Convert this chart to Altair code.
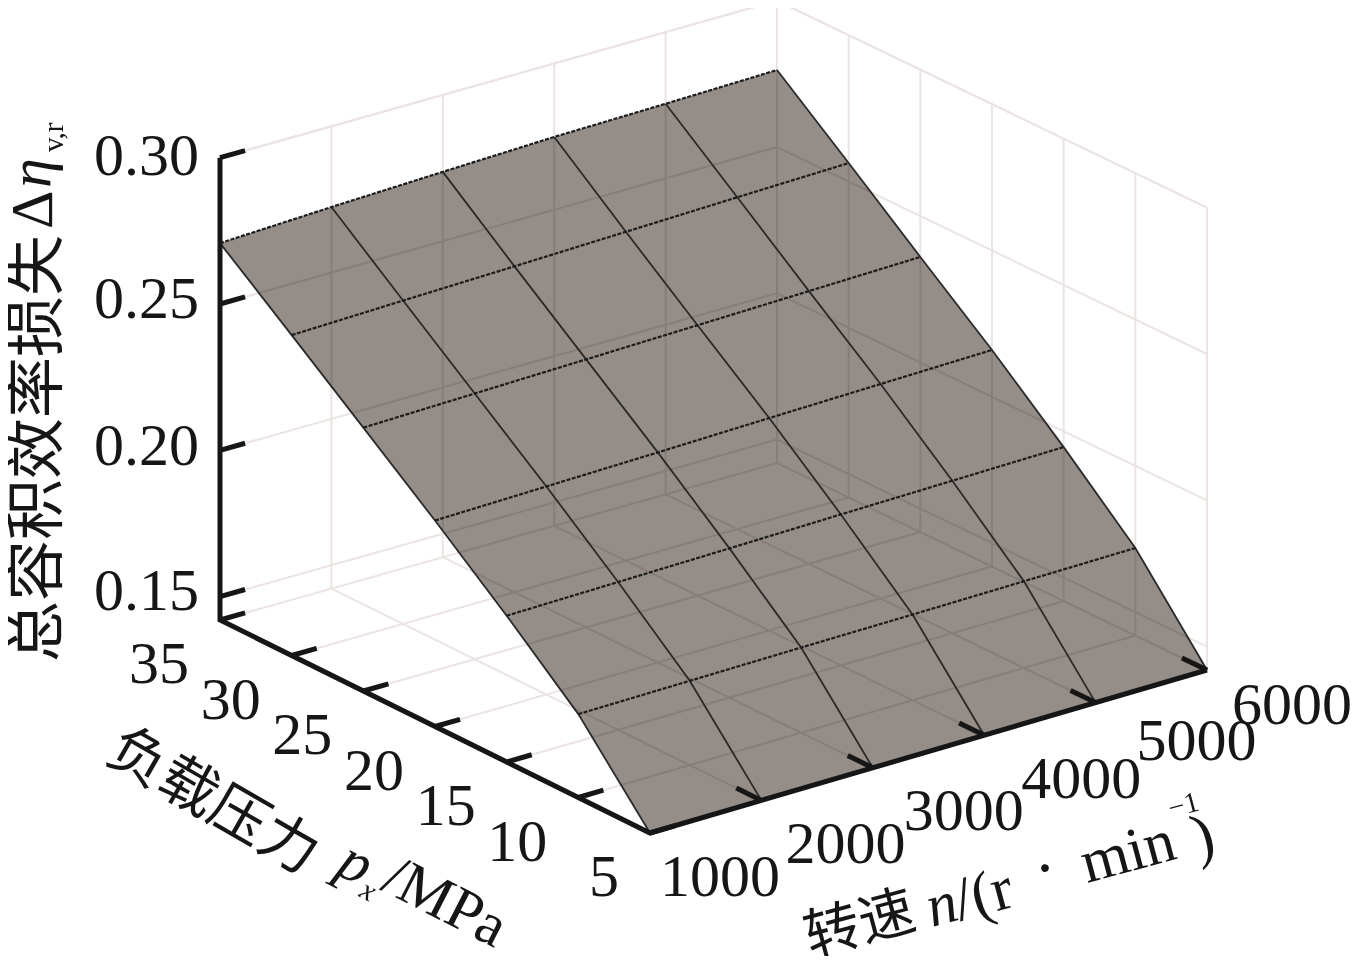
import altair as alt
import pandas as pd

# ---- data ----
N_VALUES = [1000, 2000, 3000, 4000, 5000, 6000]
P_VALUES = [35, 30, 25, 20, 15, 10, 5]
Z_TICKS = [0.15, 0.20, 0.25, 0.30]
Z_FLOOR = 0.142
Z_TOP = 0.30
LOSS_P35 = [0.2708, 0.2724, 0.2737, 0.2749, 0.2755, 0.2763]
LOSS_P30 = [0.2515, 0.2525, 0.2534, 0.2544, 0.2554, 0.2563]
LOSS_P25 = [0.2320, 0.2328, 0.2336, 0.2344, 0.2352, 0.2360]
LOSS_P20 = [0.2124, 0.2131, 0.2138, 0.2146, 0.2153, 0.2160]
LOSS_P15 = [0.1920, 0.1925, 0.1930, 0.1936, 0.1941, 0.1946]
LOSS_P10 = [0.1705, 0.1708, 0.1711, 0.1713, 0.1716, 0.1719]
LOSS_P05 = [0.1420, 0.1420, 0.1420, 0.1420, 0.1420, 0.1420]
LOSS = [LOSS_P35, LOSS_P30, LOSS_P25, LOSS_P20, LOSS_P15, LOSS_P10, LOSS_P05]
Z_LABELS = ["0.15", "0.20", "0.25", "0.30"]

# ---- view of the 3D box ----
def view(n, p, z):
    u = (n - 1000) / 5000
    v = (p - 5) / 30
    sx = 650 + 557 * u - 430 * v
    sy = 833 - 163 * u - 213 * v + 6 * u * v - (z - Z_FLOOR) * 2926
    return sx, sy

W, H = 1345, 948
XS = alt.Scale(domain=[8, 8 + W], nice=False, zero=False)
YS = alt.Scale(domain=[8 + H, 8], nice=False, zero=False)
X = alt.X("sx:Q", scale=XS, axis=None)
Y = alt.Y("sy:Q", scale=YS, axis=None)

def paths(lines):
    rows = []
    for k, pts in enumerate(lines):
        for i, (n, p, z) in enumerate(pts):
            sx, sy = view(n, p, z)
            rows.append({"id": k, "i": i, "sx": sx, "sy": sy})
    return pd.DataFrame(rows)

def draw(lines, **kw):
    return alt.Chart(paths(lines)).mark_line(**kw).encode(
        x=X, y=Y, detail="id:N", order="i:Q")

nlo, nhi, plo, phi = N_VALUES[0], N_VALUES[-1], P_VALUES[-1], P_VALUES[0]

# back walls and floor
grid = []
for n in N_VALUES:
    grid.append([(n, phi, Z_FLOOR), (n, phi, Z_TOP)])
    grid.append([(n, plo, Z_FLOOR), (n, phi, Z_FLOOR)])
for p in P_VALUES:
    grid.append([(nhi, p, Z_FLOOR), (nhi, p, Z_TOP)])
    grid.append([(nlo, p, Z_FLOOR), (nhi, p, Z_FLOOR)])
for z in Z_TICKS:
    grid.append([(nlo, phi, z), (nhi, phi, z), (nhi, plo, z)])
grid.append([(nlo, phi, Z_TOP), (nhi, phi, Z_TOP), (nhi, plo, Z_TOP)])

# surface outline and mesh
outline = ([(n, phi, LOSS[0][j]) for j, n in enumerate(N_VALUES)]
           + [(nhi, p, LOSS[i][-1]) for i, p in enumerate(P_VALUES)]
           + [(n, plo, LOSS[-1][j]) for j, n in reversed(list(enumerate(N_VALUES)))]
           + [(nlo, p, LOSS[i][0]) for i, p in reversed(list(enumerate(P_VALUES)))])
const_p = [[(n, p, LOSS[i][j]) for j, n in enumerate(N_VALUES)] for i, p in enumerate(P_VALUES)]
const_n = [[(n, p, LOSS[i][j]) for i, p in enumerate(P_VALUES)] for j, n in enumerate(N_VALUES)]

# axes
axes = [[(nlo, phi, Z_TOP), (nlo, phi, Z_FLOOR), (nlo, plo, Z_FLOOR), (nhi, plo, Z_FLOOR)]]
ticks = []
for z in Z_TICKS:
    ticks.append([(nlo, phi, z), (nlo + 225, phi, z)])
for p in P_VALUES:
    ticks.append([(nlo, p, Z_FLOOR), (nlo + 225, p, Z_FLOOR)])
for n in N_VALUES[1:]:
    ticks.append([(n, plo, Z_FLOOR), (n, plo + 1.75, Z_FLOOR)])

SERIF = "Liberation Serif"
CJK = "Noto Sans CJK SC"
INK = "#161616"

def labels(rows, **kw):
    kw.setdefault("font", SERIF)
    kw.setdefault("color", INK)
    return alt.Chart(pd.DataFrame(rows)).mark_text(**kw).encode(x=X, y=Y, text="t:N")

def anchored(n, p, z, dx, dy, t):
    sx, sy = view(n, p, z)
    return {"sx": sx + dx, "sy": sy + dy, "t": t}

Z_DY = [-5, -3, -4, -1]
z_lab = labels([anchored(nlo, phi, z, -21, Z_DY[i], t) for i, (z, t) in enumerate(zip(Z_TICKS, Z_LABELS))],
               fontSize=60, align="right", baseline="middle")
p_lab = labels([anchored(nlo, p, Z_FLOOR, -31, 45, str(p)) for p in P_VALUES],
               fontSize=60, align="right", baseline="middle")
N_DX = [70, 84, 91, 97, 101, 85]
N_DY = [45, 45, 44, 45, 39, 36]
n_lab = labels([anchored(n, plo, Z_FLOOR, N_DX[j], N_DY[j], str(n)) for j, n in enumerate(N_VALUES)],
               fontSize=60, align="center", baseline="middle")

# axis titles, written piece by piece
def piece(x, y, text, **kw):
    return labels([{"sx": x, "sy": y, "t": text}], **kw)

titles = [
    piece(39, 662, "总容积效率损失", font=CJK, fontSize=61, angle=270, align="left", baseline="middle"),
    piece(52, 229, "Δ", fontSize=60, angle=270, align="left", baseline="alphabetic"),
    piece(50, 188, "η", fontSize=60, fontStyle="italic", angle=270, align="left", baseline="alphabetic"),
    piece(63, 152, "v,r", fontSize=29, angle=270, align="left", baseline="alphabetic"),
    piece(112, 745, "负载压力", font=CJK, fontSize=58, angle=30, align="left", baseline="middle"),
    piece(334, 873, "p", fontSize=60, fontStyle="italic", angle=27, align="left", baseline="alphabetic"),
    piece(358, 896, "x", fontSize=30, fontStyle="italic", angle=27, align="left", baseline="alphabetic"),
    piece(379, 889, "/MPa", fontSize=60, angle=27, align="left", baseline="alphabetic"),
    piece(806, 940, "转速", font=CJK, fontSize=56, angle=345, align="left", baseline="middle"),
    piece(932, 927, "n", fontSize=60, fontStyle="italic", angle=345, align="left", baseline="alphabetic"),
    piece(960, 921, "/(r", fontSize=62, angle=345, align="left", baseline="alphabetic"),
    piece(1040, 892, "·", fontSize=66, angle=345, align="left", baseline="alphabetic"),
    piece(1087, 883, "min", fontSize=61, angle=345, align="left", baseline="alphabetic"),
    piece(1171, 818, "−1", fontSize=29, angle=345, align="left", baseline="alphabetic"),
    piece(1198, 858, ")", fontSize=62, angle=345, align="left", baseline="alphabetic"),
]

chart = alt.layer(
    draw(grid, color="#ebe4e2", strokeWidth=2),
    draw([outline], filled=True, color="#948d88", strokeWidth=0, blend="multiply"),
    draw(const_n, color="#2a2a2a", strokeWidth=1.8),
    draw(const_p, color="#1c1c1c", strokeWidth=2.2, strokeDash=[4, 1.5]),
    draw(ticks, color=INK, strokeWidth=5),
    draw(axes, color=INK, strokeWidth=5, strokeJoin="miter"),
    z_lab, p_lab, n_lab, *titles,
).properties(width=W, height=H, padding=0, autosize=alt.AutoSizeParams(type="none")
).configure_view(stroke=None)

chart.save("out.html", embed_options={"renderer": "svg", "actions": False})
